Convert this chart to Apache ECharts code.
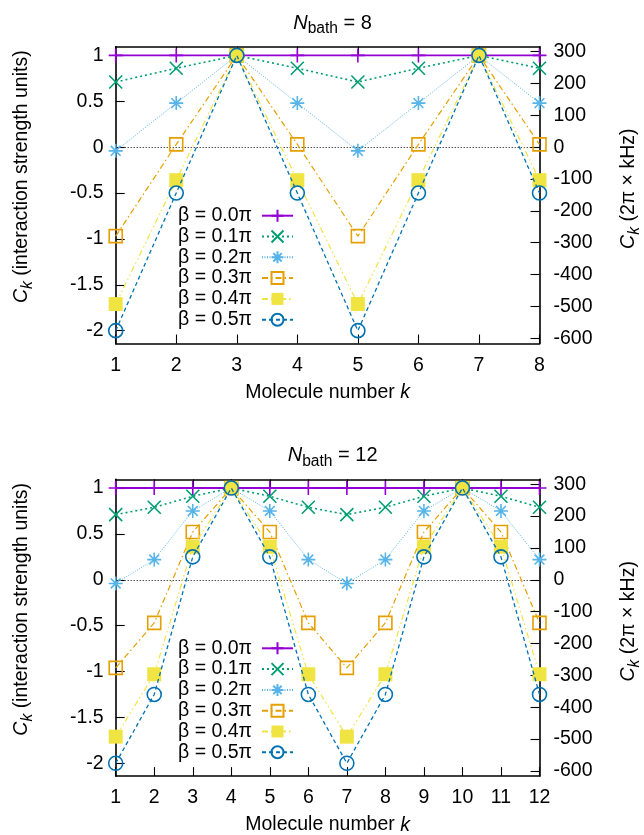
<!DOCTYPE html>
<html>
<head>
<meta charset="utf-8">
<script src="https://cdn.jsdelivr.net/npm/echarts@6/dist/echarts.min.js"></script>
<style>
  html, body { margin: 0; padding: 0; background: #fff; }
  #chart { width: 644px; height: 835px; }
</style>
</head>
<body>
<div id="chart"></div>
<script>
// ---- data ----
const betaLabels = ['β = 0.0π', 'β = 0.1π', 'β = 0.2π', 'β = 0.3π', 'β = 0.4π', 'β = 0.5π'];

const k8  = [1, 2, 3, 4, 5, 6, 7, 8];
const k12 = [1, 2, 3, 4, 5, 6, 7, 8, 9, 10, 11, 12];

// C_k, N_bath = 8
const c8_b00 = [1, 1, 1, 1, 1, 1, 1, 1];
const c8_b01 = [0.71, 0.86, 1, 0.86, 0.71, 0.86, 1, 0.86];
const c8_b02 = [-0.04, 0.48, 1, 0.48, -0.04, 0.48, 1, 0.48];
const c8_b03 = [-0.97, 0.03, 1, 0.03, -0.97, 0.03, 1, 0.03];
const c8_b04 = [-1.71, -0.36, 1, -0.36, -1.71, -0.36, 1, -0.36];
const c8_b05 = [-2, -0.5, 1, -0.5, -2, -0.5, 1, -0.5];

// C_k, N_bath = 12
const c12_b00 = [1, 1, 1, 1, 1, 1, 1, 1, 1, 1, 1, 1];
const c12_b01 = [0.71, 0.79, 0.91, 1, 0.91, 0.79, 0.71, 0.79, 0.91, 1, 0.91, 0.79];
const c12_b02 = [-0.04, 0.22, 0.75, 1, 0.75, 0.22, -0.04, 0.22, 0.75, 1, 0.75, 0.22];
const c12_b03 = [-0.96, -0.47, 0.52, 1, 0.52, -0.47, -0.96, -0.47, 0.52, 1, 0.52, -0.47];
const c12_b04 = [-1.71, -1.03, 0.36, 1, 0.36, -1.03, -1.71, -1.03, 0.36, 1, 0.36, -1.03];
const c12_b05 = [-2, -1.25, 0.25, 1, 0.25, -1.25, -2, -1.25, 0.25, 1, 0.25, -1.25];

// tick labels
const leftTicks  = [-2, -1.5, -1, -0.5, 0, 0.5, 1];
const rightTicks = [-600, -500, -400, -300, -200, -100, 0, 100, 200, 300];

// ---- appearance ----
const FONT = '"Liberation Sans", Arial, Helvetica, sans-serif';
const FS = 19.5;
const Y_MIN = -2.14, Y_MAX = 1.095;
const KHZ_PER_UNIT = 288;   // right-hand scale factor

const PLUS  = 'path://M0,5L10,5M5,0L5,10';
const CROSS = 'path://M0,0L10,10M10,0L0,10';
const STAR  = 'path://M0,5L10,5M5,0L5,10M1.5,1.5L8.5,8.5M8.5,1.5L1.5,8.5';

const looks = [
  { color: '#9400d3', symbol: PLUS,     size: 14, hollow: true,  dash: 'solid',               width: 1.8 },
  { color: '#009e73', symbol: CROSS,    size: 13, hollow: true,  dash: [2, 3],                width: 1.6 },
  { color: '#56b4e9', symbol: STAR,     size: 14, hollow: true,  dash: [1, 1.5],              width: 1.0 },
  { color: '#e69f00', symbol: 'rect',   size: 13, hollow: true,  dash: [6, 3, 1.5, 3],        width: 1.2 },
  { color: '#f0e442', symbol: 'rect',   size: 14, hollow: false, dash: [6, 3, 1.5, 3, 1.5, 3], width: 1.2 },
  { color: '#0072b2', symbol: 'circle', size: 14, hollow: true,  dash: [4, 3],                width: 1.3 }
];

const panels = [
  { n: '8',  ks: k8,  sets: [c8_b00, c8_b01, c8_b02, c8_b03, c8_b04, c8_b05],       top: 46.7 },
  { n: '12', ks: k12, sets: [c12_b00, c12_b01, c12_b02, c12_b03, c12_b04, c12_b05], top: 479.3 }
];
const PLOT_H = 296.8, PLOT_L = 115.7, PLOT_R = 644 - 539.5;
const MID_X = PLOT_L + (644 - PLOT_L - PLOT_R) / 2;

const subRich = {
  n:  { fontStyle: 'italic', fontSize: FS + 0.5, fontFamily: FONT, color: '#000' },
  c:  { fontStyle: 'italic', fontSize: FS, fontFamily: FONT, color: '#000' },
  s:  { fontSize: FS * 0.8, fontFamily: FONT, color: '#000', padding: [11, 0, 0, 0] },
  si: { fontStyle: 'italic', fontSize: FS * 0.8, fontFamily: FONT, color: '#000', padding: [11, 0, 0, 0] },
  t:  { fontSize: FS, fontFamily: FONT, color: '#000' },
  tt: { fontSize: FS + 0.5, fontFamily: FONT, color: '#000' },
  i:  { fontStyle: 'italic', fontSize: FS, fontFamily: FONT, color: '#000' }
};

const axisLineStyle = { color: '#000', width: 1.6 };
const tickStyle = { show: true, inside: true, length: 9, lineStyle: { color: '#000', width: 1.1 } };

const grid = [], xAxis = [], yAxis = [], series = [], legend = [], title = [], graphic = [];

panels.forEach((p, pi) => {
  grid.push({ left: PLOT_L, right: PLOT_R, top: p.top, height: PLOT_H, outerBoundsMode: 'none', containLabel: false });
  const N = p.ks.length;
  // bottom x axis
  xAxis.push({
    type: 'value', gridIndex: pi, position: 'bottom', min: 1, max: N, interval: 1,
    axisLine: { show: true, onZero: false, lineStyle: axisLineStyle },
    axisTick: tickStyle,
    axisLabel: { color: '#000', fontSize: FS, fontFamily: FONT, margin: 12 },
    splitLine: { show: false },
    name: '{t|Molecule number }{i|k}', nameLocation: 'middle', nameGap: 39,
    nameTextStyle: { rich: subRich }
  });
  // mirrored ticks on the top border
  xAxis.push({
    type: 'value', gridIndex: pi, position: 'top', min: 1, max: N, interval: 1,
    axisLine: { show: true, onZero: false, lineStyle: axisLineStyle },
    axisTick: tickStyle, axisLabel: { show: false }, splitLine: { show: false }
  });
  yAxis.push({
    type: 'value', gridIndex: pi, position: 'left', min: Y_MIN, max: Y_MAX,
    axisLine: { show: true, onZero: false, lineStyle: axisLineStyle },
    axisTick: Object.assign({}, tickStyle, { customValues: leftTicks }),
    axisLabel: { color: '#000', fontSize: FS, fontFamily: FONT, margin: 12, customValues: leftTicks },
    splitLine: { show: false }
  });
  yAxis.push({
    type: 'value', gridIndex: pi, position: 'right',
    min: Y_MIN * KHZ_PER_UNIT, max: Y_MAX * KHZ_PER_UNIT,
    axisLine: { show: true, onZero: false, lineStyle: axisLineStyle },
    axisTick: Object.assign({}, tickStyle, { customValues: rightTicks }),
    axisLabel: { color: '#000', fontSize: FS, fontFamily: FONT, margin: 14, customValues: rightTicks },
    splitLine: { show: false }
  });

  p.sets.forEach((vals, si) => {
    const lk = looks[si];
    const s = {
      type: 'line', name: betaLabels[si],
      xAxisIndex: pi * 2, yAxisIndex: pi * 2,
      data: p.ks.map((k, j) => [k, vals[j]]),
      symbol: lk.symbol, symbolSize: lk.size, showAllSymbol: true,
      clip: false, animation: false, silent: true,
      lineStyle: { color: lk.color, width: lk.width, type: lk.dash },
      itemStyle: lk.hollow
        ? { color: 'rgba(0,0,0,0)', borderColor: lk.color, borderWidth: 1.6 }
        : { color: lk.color, borderWidth: 0 },
      emphasis: { disabled: true },
      z: 3 + si
    };
    if (si === 0) {
      // dotted zero line
      s.markLine = {
        silent: true, symbol: 'none', animation: false,
        label: { show: false },
        lineStyle: { color: '#000', width: 1, type: [1, 2] },
        data: [{ yAxis: 0 }]
      };
    }
    series.push(s);
  });

  legend.push({
    data: betaLabels, orient: 'vertical', align: 'right',
    right: 644 - 299, top: p.top + 154,
    itemWidth: 31, itemHeight: 15, itemGap: 0.8,
    selectedMode: false,
    textStyle: { color: '#000', fontSize: FS, fontFamily: FONT, lineHeight: 15, padding: [0, 5, 0, 0] }
  });

  title.push({
    text: '{n|N}{s|bath}{tt| = ' + p.n + '}',
    left: MID_X, textAlign: 'center', top: p.top - 42,
    textStyle: { rich: subRich, fontWeight: 'normal' }
  });

  graphic.push({
    type: 'text', x: 22, y: p.top + 130, rotation: Math.PI / 2,
    style: {
      text: '{c|C}{si|k}{t| (interaction strength units)}',
      rich: subRich, align: 'center', verticalAlign: 'middle'
    }
  });
  graphic.push({
    type: 'text', x: 629, y: p.top + 142, rotation: Math.PI / 2,
    style: {
      text: '{c|C}{si|k}{t| (2π × kHz)}',
      rich: subRich, align: 'center', verticalAlign: 'middle'
    }
  });
});

const chart = echarts.init(document.getElementById('chart'), null, { renderer: 'canvas' });
chart.setOption({
  backgroundColor: '#fff',
  animation: false,
  textStyle: { fontFamily: FONT },
  title, grid, xAxis, yAxis, legend, series, graphic
});
</script>
</body>
</html>
